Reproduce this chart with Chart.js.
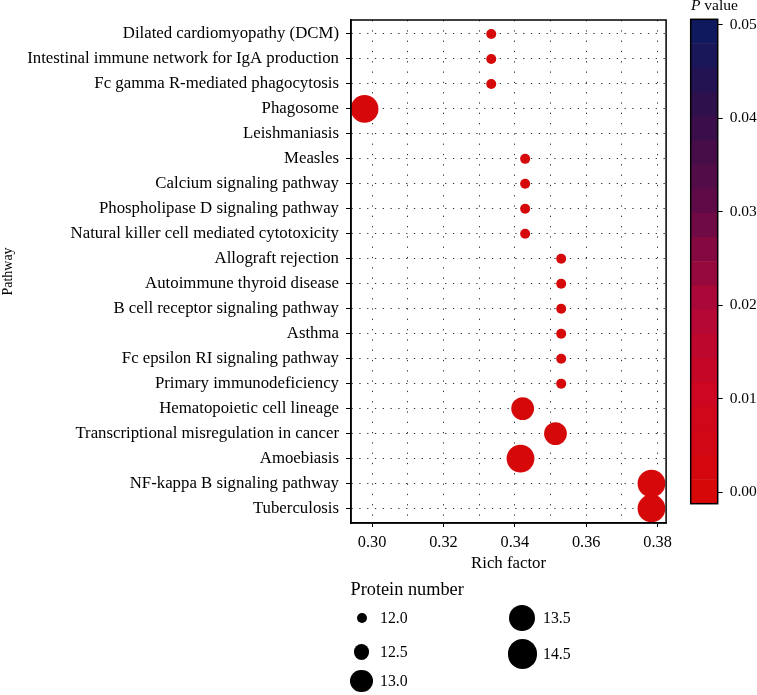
<!DOCTYPE html>
<html>
<head>
<meta charset="utf-8">
<script src="https://cdn.jsdelivr.net/npm/chart.js@4.4.0/dist/chart.umd.min.js"></script>
<style>
  body { margin: 0; background: #fff; font-family: "Liberation Serif", serif; color: #000; }
  #wrap { position: relative; width: 757px; height: 695px; overflow: hidden; }
  #main { position: absolute; left: 0; top: 0; }
  #bar { position: absolute; left: 680px; top: 0; }
  .txt { position: absolute; white-space: nowrap; line-height: 1; }
  .key { position: absolute; border-radius: 50%; background: #000; }
</style>
</head>
<body>
<div id="wrap">
  <canvas id="main" width="680" height="580"></canvas>
  <canvas id="bar" width="77" height="520"></canvas>
  <div class="txt" style="left:691px; top:-3px; font-size:15.5px;"><i>P</i> value</div>
  <div id="legend"></div>
</div>
<script>
// --- Data ---
const pathways = [
    "Dilated cardiomyopathy (DCM)",
    "Intestinal immune network for IgA production",
    "Fc gamma R-mediated phagocytosis",
    "Phagosome",
    "Leishmaniasis",
    "Measles",
    "Calcium signaling pathway",
    "Phospholipase D signaling pathway",
    "Natural killer cell mediated cytotoxicity",
    "Allograft rejection",
    "Autoimmune thyroid disease",
    "B cell receptor signaling pathway",
    "Asthma",
    "Fc epsilon RI signaling pathway",
    "Primary immunodeficiency",
    "Hematopoietic cell lineage",
    "Transcriptional misregulation in cancer",
    "Amoebiasis",
    "NF-kappa B signaling pathway",
    "Tuberculosis"
];
const richFactor = [0.3334, 0.3334, 0.3334, 0.2979, null, 0.3429, 0.3429, 0.3429, 0.3429,
    0.3530, 0.3530, 0.3530, 0.3530, 0.3530, 0.3530, 0.3422, 0.3514, 0.3416, 0.3783, 0.3783];
const proteinNumber = [12, 12, 12, 14, null, 12, 12, 12, 12, 12, 12, 12, 12, 12, 12, 13, 13, 14, 14, 14];
const pValue = [0.001, 0.001, 0.001, 0.0005, null, 0.001, 0.001, 0.001, 0.001,
    0.001, 0.001, 0.001, 0.001, 0.001, 0.001, 0.0008, 0.0008, 0.0005, 0.0004, 0.0004];

const xTicks = [0.30, 0.31, 0.32, 0.33, 0.34, 0.35, 0.36, 0.37, 0.38];
const xLabels = [0.30, 0.32, 0.34, 0.36, 0.38];
const pTicks = [0.00, 0.01, 0.02, 0.03, 0.04, 0.05];
const sizeBreaks = [12.0, 12.5, 13.0, 13.5, 14.5];

// --- Style ---
const FONT = "'Liberation Serif', serif";
const sizeRadii = [5, 7.9, 11.4, 13.2, 14.6];
const colorStops = [0, 0.01, 0.02, 0.03, 0.04, 0.05];
const colorRGB = [[214, 8, 8], [206, 6, 32], [176, 8, 56], [100, 10, 70], [52, 14, 74], [12, 26, 96]];
const pMin = -0.00124, pMax = 0.0506;

function radius(n) {
    if (n <= sizeBreaks[0]) return sizeRadii[0];
    for (let i = 1; i < sizeBreaks.length; i++) {
        if (n <= sizeBreaks[i]) {
            const t = (n - sizeBreaks[i - 1]) / (sizeBreaks[i] - sizeBreaks[i - 1]);
            return sizeRadii[i - 1] + t * (sizeRadii[i] - sizeRadii[i - 1]);
        }
    }
    return sizeRadii[sizeRadii.length - 1];
}

function pColor(p) {
    let i = 1;
    while (i < colorStops.length - 1 && p > colorStops[i]) i++;
    let t = (p - colorStops[i - 1]) / (colorStops[i] - colorStops[i - 1]);
    t = Math.max(0, Math.min(1, t));
    const a = colorRGB[i - 1], b = colorRGB[i];
    const c = a.map((v, k) => Math.round(v + t * (b[k] - v)));
    return `rgb(${c[0]},${c[1]},${c[2]})`;
}

// kotak hitam di sekeliling area plot
const frame = {
    id: 'frame',
    afterDatasetsDraw(chart) {
        const { ctx, chartArea: a } = chart;
        ctx.save();
        ctx.strokeStyle = '#000';
        ctx.lineWidth = 1.5;
        ctx.strokeRect(a.left, a.top, a.right - a.left, a.bottom - a.top);
        ctx.restore();
    }
};

// --- Bubble chart ---
const points = [];
pathways.forEach((name, i) => {
    if (richFactor[i] === null) return;
    points.push({ x: richFactor[i], y: i, n: proteinNumber[i], p: pValue[i] });
});

const isMajor = v => xLabels.some(l => Math.abs(l - v) < 1e-9);

new Chart(document.getElementById('main'), {
    type: 'scatter',
    data: {
        datasets: [{
            data: points,
            pointRadius: c => radius(c.raw.n),
            pointHoverRadius: c => radius(c.raw.n),
            backgroundColor: c => pColor(c.raw.p),
            borderWidth: 0,
            clip: 0
        }]
    },
    options: {
        responsive: false,
        animation: false,
        layout: { padding: { left: 0, top: 20, right: 11.3, bottom: 0 } },
        plugins: { legend: { display: false }, tooltip: { enabled: false } },
        scales: {
            x: {
                type: 'linear',
                min: 0.2941,
                max: 0.3824,
                afterBuildTicks: s => { s.ticks = xTicks.map(v => ({ value: v })); },
                afterFit: s => { s.height = 57; },
                ticks: {
                    callback: v => isMajor(v) ? v.toFixed(2) : '',
                    font: { family: FONT, size: 16.3 },
                    color: '#000',
                    padding: 6,
                    maxRotation: 0,
                    autoSkip: false
                },
                grid: {
                    color: 'rgba(0,0,0,0.8)',
                    lineWidth: 1,
                    tickLength: 4,
                    tickWidth: 1,
                    tickColor: c => isMajor(c.tick.value) ? '#000' : 'rgba(0,0,0,0)'
                },
                border: { display: true, color: '#000', width: 1.5, dash: [1.3, 9] },
                title: {
                    display: true, text: 'Rich factor', color: '#000',
                    font: { family: FONT, size: 16.8 },
                    padding: { top: 0, bottom: 6 }
                }
            },
            y: {
                type: 'linear',
                reverse: true,
                min: -0.56,
                max: 19.58,
                afterBuildTicks: s => { s.ticks = pathways.map((_, i) => ({ value: i })); },
                afterFit: s => { s.width = 351; },
                ticks: {
                    callback: v => pathways[v],
                    font: { family: FONT, size: 16.8 },
                    color: '#000',
                    padding: 7,
                    autoSkip: false
                },
                grid: {
                    color: 'rgba(0,0,0,0.8)',
                    lineWidth: 1,
                    tickLength: 5,
                    tickWidth: 1,
                    tickColor: '#000'
                },
                border: { display: true, color: '#000', width: 1.5, dash: [1.3, 6.5] },
                title: {
                    display: true, text: 'Pathway', color: '#000',
                    font: { family: FONT, size: 14 },
                    padding: { top: 0, bottom: 0 }
                }
            }
        }
    },
    plugins: [frame]
});

// --- Colour bar (P value) ---
const nBands = 20;
const bands = [];
for (let i = 0; i < nBands; i++) {
    const lo = pMin + (pMax - pMin) * i / nBands;
    const hi = pMin + (pMax - pMin) * (i + 1) / nBands;
    bands.push({ lo: lo, hi: hi, color: pColor((lo + hi) / 2) });
}

new Chart(document.getElementById('bar'), {
    type: 'bar',
    data: {
        labels: ['P'],
        datasets: bands.map(b => ({
            data: [[b.lo, b.hi]],
            backgroundColor: b.color,
            borderWidth: 0,
            grouped: false,
            barPercentage: 1,
            categoryPercentage: 1
        }))
    },
    options: {
        responsive: false,
        animation: false,
        layout: { padding: { left: 10.7, top: 19.3, right: 0, bottom: 13.3 } },
        plugins: { legend: { display: false }, tooltip: { enabled: false } },
        scales: {
            x: { display: false },
            y: {
                position: 'right',
                min: pMin,
                max: pMax,
                afterBuildTicks: s => { s.ticks = pTicks.map(v => ({ value: v })); },
                afterFit: s => { s.width = 39.3; },
                ticks: {
                    callback: v => v.toFixed(2),
                    font: { family: FONT, size: 15.5 },
                    color: '#000',
                    padding: 7
                },
                grid: { drawOnChartArea: false, tickLength: 5, tickColor: '#000', tickWidth: 1 },
                border: { display: false }
            }
        }
    },
    plugins: [frame]
});

// --- Legend: Protein number ---
const legendPos = [[361.5, 617.7], [361.5, 652.2], [361.5, 681], [522.3, 617.7], [522.3, 654]];
const legendTextX = [380, 380, 380, 543, 543];
const legend = document.getElementById('legend');

const title = document.createElement('div');
title.className = 'txt';
title.style.cssText = 'left:350.5px; top:580px; font-size:18.3px;';
title.textContent = 'Protein number';
legend.appendChild(title);

sizeBreaks.forEach((v, i) => {
    const r = sizeRadii[i];
    const [cx, cy] = legendPos[i];
    const key = document.createElement('div');
    key.className = 'key';
    key.style.cssText = `left:${cx - r}px; top:${cy - r}px; width:${2 * r}px; height:${2 * r}px;`;
    legend.appendChild(key);

    const lab = document.createElement('div');
    lab.className = 'txt';
    lab.style.cssText = `left:${legendTextX[i]}px; top:${cy - 8}px; font-size:15.8px;`;
    lab.textContent = v.toFixed(1);
    legend.appendChild(lab);
});
</script>
</body>
</html>
